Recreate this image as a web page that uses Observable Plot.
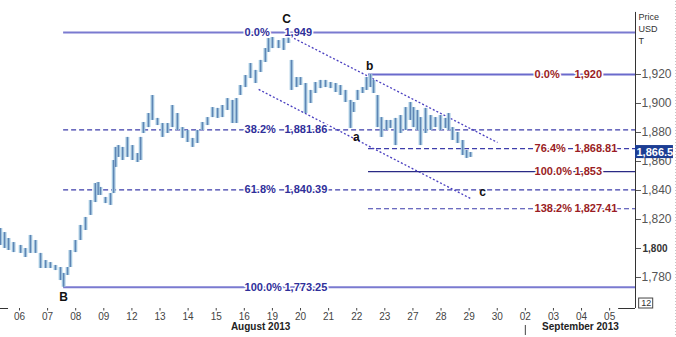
<!DOCTYPE html>
<html>
<head>
<meta charset="utf-8">
<script src="https://cdn.jsdelivr.net/npm/d3@7"></script>
<script src="https://cdn.jsdelivr.net/npm/@observablehq/plot@0.6"></script>
<style>
  html, body { margin: 0; padding: 0; background: #fff; }
  #chart { width: 676px; height: 337px; overflow: hidden; }
</style>
</head>
<body>
<div id="chart"></div>
<script>
// ---- Data ----
const xLabels = ["06","07","08","09","12","13","14","15","16","19","20","21","22","23","27","28","29","30","02","03","04","05"];
const xIdx = xLabels.map((d, i) => i);
const yTicks = [1780, 1800, 1820, 1840, 1860, 1880, 1900, 1920];

// intraday bars: position in trading days, high, low
const barT = [-0.68,-0.53,-0.39,-0.21,0.04,0.21,0.39,0.57,0.75,0.93,1.10,1.28,1.46,1.57,1.71,1.81,1.99,2.17,2.35,2.53,2.70,2.80,2.88,3.06,3.24,3.35,3.42,3.52,3.67,3.84,4.02,4.20,4.31,4.41,4.59,4.73,4.91,5.09,5.27,5.44,5.62,5.80,5.98,6.16,6.33,6.51,6.69,6.87,7.05,7.22,7.40,7.58,7.72,7.86,8.04,8.22,8.40,8.58,8.75,8.86,9.00,9.22,9.40,9.57,9.68,9.86,10.00,10.18,10.36,10.53,10.71,10.89,11.07,11.25,11.42,11.60,11.78,11.89,12.03,12.21,12.35,12.49,12.60,12.74,12.88,13.06,13.20,13.38,13.56,13.74,13.91,14.02,14.16,14.27,14.45,14.63,14.80,14.98,15.16,15.27,15.41,15.59,15.77,15.91,16.05];
const barHi = [1813.8,1811.0,1806.9,1804.1,1802.1,1800.0,1809.0,1805.5,1796.6,1791.7,1790.3,1788.3,1786.9,1782.8,1786.9,1798.6,1805.5,1815.9,1821.4,1833.1,1844.8,1845.5,1842.1,1835.2,1837.9,1860.7,1869.7,1871.0,1869.7,1876.6,1871.0,1865.5,1876.6,1886.9,1893.1,1905.5,1889.7,1886.2,1886.2,1898.6,1893.1,1883.4,1881.4,1875.9,1881.4,1886.9,1890.3,1897.2,1896.6,1898.6,1903.4,1902.1,1903.4,1912.4,1919.3,1927.6,1922.8,1929.7,1937.9,1944.8,1945.5,1943.4,1944.8,1949.0,1929.7,1917.9,1917.9,1913.8,1909.0,1914.5,1915.9,1915.9,1914.5,1913.8,1912.4,1909.0,1902.1,1900.7,1909.0,1911.0,1917.9,1920.0,1915.9,1905.5,1890.3,1888.3,1888.3,1889.7,1891.7,1897.2,1900.7,1897.2,1895.2,1890.3,1896.6,1891.7,1890.3,1891.7,1889.7,1893.1,1883.4,1880.0,1874.5,1867.6,1866.2];
const barLo = [1802.1,1800.0,1798.6,1797.2,1796.6,1793.8,1796.6,1796.6,1786.2,1786.2,1786.2,1784.8,1777.9,1773.25,1781.4,1786.9,1797.2,1805.5,1812.4,1822.8,1831.7,1836.6,1836.6,1831.0,1829.7,1837.9,1855.9,1862.8,1860.7,1862.8,1860.7,1859.3,1860.7,1879.3,1883.4,1888.3,1884.8,1876.6,1879.3,1883.4,1881.4,1875.9,1873.1,1869.7,1872.4,1881.4,1884.8,1890.3,1889.7,1890.3,1895.2,1886.2,1886.2,1905.5,1911.0,1917.2,1913.8,1921.4,1928.3,1935.2,1937.9,1937.9,1936.6,1941.4,1909.0,1911.0,1912.4,1893.1,1900.0,1906.9,1910.3,1911.0,1910.3,1907.6,1905.5,1900.7,1882.8,1893.8,1902.1,1906.9,1909.0,1911.0,1906.9,1883.4,1876.6,1881.4,1882.8,1871.0,1879.3,1881.4,1888.3,1883.4,1881.4,1871.0,1879.3,1881.4,1883.4,1881.4,1882.8,1881.4,1874.5,1872.4,1864.1,1862.1,1862.8];

// Fibonacci set 1 (B -> C)
const fib1Start = 1.57;
const fib1Levels = [1949, 1881.86, 1840.39, 1773.25];
const fib1Pcts = ["0.0%", "38.2%", "61.8%", "100.0%"];
const fib1Solid = [true, false, false, true];
// Fibonacci set 2 (from b)
const fib2Start = 12.42;
const fib2Levels = [1920, 1868.81, 1853, 1827.41];
const fib2Pcts = ["0.0%", "76.4%", "100.0%", "138.2%"];
const fib2Solid = [true, false, true, false];

// trend channel (start day, start price, end day, end price)
const chanX1 = [9.64, 8.51];
const chanY1 = [1946.2, 1909.7];
const chanX2 = [17.01, 16.05];
const chanY2 = [1873.1, 1834.5];

// wave labels
const waveText = ["C", "B", "b", "a", "c"];
const waveT = [9.50, 1.57, 12.46, 11.99, 16.48];
const wavePrice = [1957.9, 1766.2, 1925.5, 1876.6, 1838.6];

const lastPrice = 1866.5;
const months = ["August 2013", "September 2013"];
const monthAt = [8.58, 19.96];
const monthSep = [18.0];

// ---- Build ----
const xMin = -0.676, xMax = 21.92;
const yMin = 1758.62, yMax = 1971.03;
const bars = barT.map((t, k) => ({t, hi: barHi[k], lo: barLo[k]}));
const fmt = d3.format(",");
const fib1 = fib1Levels.map((v, k) => ({v, pct: fib1Pcts[k], solid: fib1Solid[k]}));
const fib2 = fib2Levels.map((v, k) => ({v, pct: fib2Pcts[k], solid: fib2Solid[k]}));
const chans = chanX1.map((x, k) => ({x1: x, y1: chanY1[k], x2: chanX2[k], y2: chanY2[k]}));
const waves = waveText.map((s, k) => ({s, t: waveT[k], p: wavePrice[k]}));
const fib1Col = "#2f2f9a", fib2Col = "#9a1c24";
const font = "Liberation Sans, Arial, sans-serif";
const labelStyle = {textAnchor: "start", stroke: "white", strokeWidth: 3, fontSize: 11, fontWeight: "bold"};

const chart = Plot.plot({
  width: 676, height: 337,
  marginLeft: 0, marginRight: 41, marginTop: 0, marginBottom: 29,
  x: {domain: [xMin, xMax], axis: null},
  y: {domain: [yMin, yMax], axis: null},
  style: {fontFamily: font, background: "#fff", overflow: "visible"},
  marks: [
    // fib set 1 lines
    Plot.ruleY(fib1.filter(d => d.solid), {y: "v", x1: fib1Start, x2: xMax, stroke: "#7a7ad0", strokeWidth: 2}),
    Plot.ruleY(fib1.filter(d => !d.solid), {y: "v", x1: fib1Start, x2: xMax, stroke: "#3d3daa", strokeWidth: 1.2, strokeDasharray: "5,3"}),
    // fib set 2 lines
    Plot.ruleY(fib2.filter(d => d.solid && d.v > 1900), {y: "v", x1: fib2Start, x2: xMax, stroke: "#6a6acc", strokeWidth: 1.8}),
    Plot.ruleY(fib2.filter(d => d.solid && d.v < 1900), {y: "v", x1: fib2Start, x2: xMax, stroke: "#2a2a85", strokeWidth: 1.2}),
    Plot.ruleY(fib2.filter(d => !d.solid), {y: "v", x1: fib2Start, x2: xMax, stroke: "#3d3daa", strokeWidth: 1.2, strokeDasharray: "5,3"}),
    // channel
    Plot.link(chans, {x1: "x1", y1: "y1", x2: "x2", y2: "y2", stroke: "#4a3fc0", strokeWidth: 1.3, strokeDasharray: "2,2"}),
    // price bars
    Plot.ruleX(bars, {x: "t", y1: "lo", y2: "hi", stroke: "#a4c8e0", strokeWidth: 3.8}),
    Plot.ruleX(bars, {x: "t", y1: "lo", y2: "hi", stroke: "#5f85b4", strokeWidth: 1.3}),
    // fib labels
    Plot.text(fib1, {x: 8.01, y: "v", text: "pct", fill: fib1Col, ...labelStyle}),
    Plot.text(fib1, {x: 9.43, y: "v", text: d => fmt(d.v), fill: fib1Col, ...labelStyle}),
    Plot.text(fib2, {x: 18.33, y: "v", text: "pct", fill: fib2Col, ...labelStyle}),
    Plot.text(fib2, {x: 19.75, y: "v", text: d => fmt(d.v), fill: fib2Col, ...labelStyle}),
    // wave labels
    Plot.text(waves, {x: "t", y: "p", text: "s", fill: "#111", fontSize: 12, fontWeight: "bold"}),
    // right axis
    Plot.ruleX([xMax], {y1: yMin, y2: 1962.8, stroke: "#333", strokeWidth: 1}),
    Plot.axisY(yTicks, {anchor: "right", tickSize: 5, tickPadding: 1, fontSize: 12, color: "#555",
      tickFormat: d => d === 1800 ? "" : fmt(d)}),
    Plot.text([1800], {x: xMax, y: d => d, text: d => fmt(d), dx: 7, textAnchor: "start", fontSize: 10, fontWeight: "bold", fill: "#333"}),
    Plot.text(["Price\nUSD\nT"], {frameAnchor: "top-right", text: d => d, textAnchor: "start", lineAnchor: "top", dx: 3, dy: 11, lineHeight: 1.33, fontSize: 9, fill: "#333"}),
    // last price tag
    Plot.rect([lastPrice], {x1: xMax, x2: 23.27, y1: d => d - 4.5, y2: d => d + 4.5, fill: "#1c3d93"}),
    Plot.text([lastPrice], {x: xMax, y: d => d, text: d => fmt(d), dx: 1, textAnchor: "start", fill: "white", fontSize: 11, fontWeight: "bold", letterSpacing: -0.4}),
    // "12" box
    Plot.rect([12], {x1: 22.05, x2: 22.55, y1: yMin, y2: 1765.5, stroke: "#444", fill: "white"}),
    Plot.text([12], {x: 22.30, y: 1762.1, text: d => String(d), fontSize: 9, fill: "#333"}),
    // bottom axis
    Plot.ruleY([yMin], {x1: xMin, x2: -0.39, stroke: "#333"}),
    Plot.ruleY([yMin], {x1: 21.32, x2: xMax, stroke: "#333"}),
    Plot.axisX(xIdx, {anchor: "bottom", tickSize: 2.5, tickPadding: 1.5, fontSize: 10, color: "#444",
      tickFormat: i => xLabels[i]}),
    Plot.text(months, {x: (d, k) => monthAt[k], frameAnchor: "bottom", dy: 21, text: d => d, fontSize: 10, fontWeight: "bold", fill: "#222"}),
    Plot.ruleX(monthSep, {x: d => d, y1: 1746.9, y2: 1740.0, stroke: "#444"}),
    // outer dotted border
    Plot.ruleX([23.35], {y1: 1740, y2: yMax, stroke: "#bbb", strokeDasharray: "1,2"})
  ]
});
document.getElementById("chart").appendChild(chart);
</script>
</body>
</html>
